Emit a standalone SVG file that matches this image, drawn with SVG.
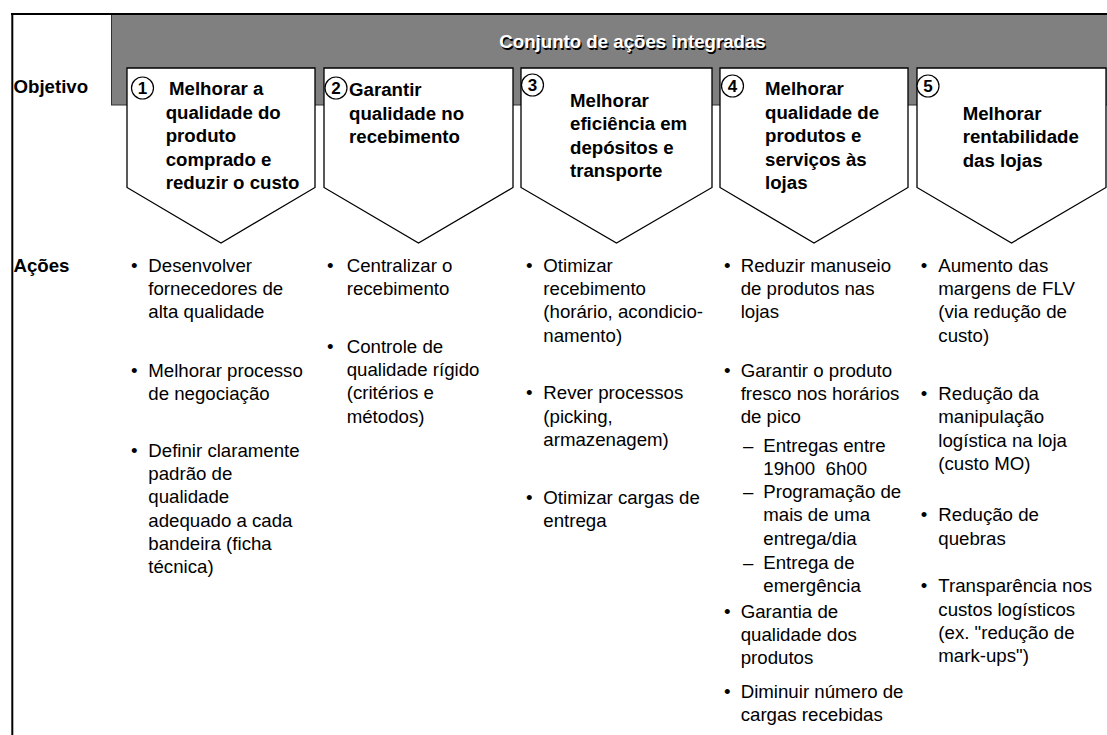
<svg xmlns="http://www.w3.org/2000/svg" width="1107" height="735" viewBox="0 0 1107 735">
<style>
text{font-family:"Liberation Sans",Arial,Helvetica,sans-serif;fill:#000;font-size:18.67px}
.b{font-weight:bold}
.ttl{font-weight:bold;fill:#fff;text-anchor:middle}
.sh{font-weight:bold;fill:#000;text-anchor:middle}
.chev{fill:#fff;stroke:#000;stroke-width:1.3}
.circ{fill:#fff;stroke:#000;stroke-width:1.2}
.dg{font-weight:bold;font-size:17px;text-anchor:middle}
</style>
<rect width="1107" height="735" fill="#fff"/>
<g id="frame">
<rect x="111.5" y="14" width="996" height="91" fill="#808080" stroke="#333" stroke-width="1"/>
<line x1="11" y1="14" x2="1107" y2="14" stroke="#000" stroke-width="2.2"/>
<line x1="12.3" y1="13" x2="12.3" y2="735" stroke="#000" stroke-width="2"/>
</g>
<g id="title">
<text class="sh" x="633.8" y="49.5">Conjunto de ações integradas</text>
<text class="ttl" x="632.5" y="48.2">Conjunto de ações integradas</text>
</g>
<g id="row-labels">
<text class="b" x="13.5" y="93">Objetivo</text>
<text class="b" x="13.5" y="271.5">Ações</text>
</g>
<g id="connectors"></g>
<g id="obj1">
<polygon class="chev" points="127,68 315,68 315,187.5 221,243 127,187.5"/>
<circle class="circ" cx="142.5" cy="88" r="11"/>
<text class="dg" x="142.5" y="94">1</text>
<text class="b" x="169" y="95">Melhorar a</text>
<text class="b" x="165.7" y="118.5">qualidade do</text>
<text class="b" x="165.7" y="142">produto</text>
<text class="b" x="165.7" y="165.5">comprado e</text>
<text class="b" x="165.7" y="189">reduzir o custo</text>
</g>
<g id="obj2">
<polygon class="chev" points="324,68 513,68 513,187.5 418.5,243 324,187.5"/>
<circle class="circ" cx="336" cy="88" r="11"/>
<text class="dg" x="336" y="94">2</text>
<text class="b" x="349" y="96">Garantir</text>
<text class="b" x="349" y="119.5">qualidade no</text>
<text class="b" x="349" y="143">recebimento</text>
</g>
<g id="obj3">
<polygon class="chev" points="521,68 712,68 712,187.5 616.5,243 521,187.5"/>
<circle class="circ" cx="532.5" cy="85" r="11"/>
<text class="dg" x="532.5" y="91">3</text>
<text class="b" x="570" y="106.5">Melhorar</text>
<text class="b" x="570" y="130">eficiência em</text>
<text class="b" x="570" y="153.5">depósitos e</text>
<text class="b" x="570" y="177">transporte</text>
</g>
<g id="obj4">
<polygon class="chev" points="720,68 908,68 908,187.5 814,243 720,187.5"/>
<circle class="circ" cx="732.5" cy="86" r="11"/>
<text class="dg" x="732.5" y="92">4</text>
<text class="b" x="765" y="95">Melhorar</text>
<text class="b" x="765" y="118.5">qualidade de</text>
<text class="b" x="765" y="142">produtos e</text>
<text class="b" x="765" y="165.5">serviços às</text>
<text class="b" x="765" y="189">lojas</text>
</g>
<g id="obj5">
<polygon class="chev" points="917,68 1106,68 1106,187.5 1011.5,243 917,187.5"/>
<circle class="circ" cx="928" cy="86" r="11"/>
<text class="dg" x="928" y="92">5</text>
<text class="b" x="962.7" y="119.5">Melhorar</text>
<text class="b" x="962.7" y="143">rentabilidade</text>
<text class="b" x="962.7" y="166.5">das lojas</text>
</g>
<g id="acoes1">
<text x="131" y="271.5">•</text>
<text x="148.3" y="271.5">Desenvolver</text>
<text x="148.3" y="294.8">fornecedores de</text>
<text x="148.3" y="318.2">alta qualidade</text>
<text x="131" y="376.5">•</text>
<text x="148.3" y="376.5">Melhorar processo</text>
<text x="148.3" y="399.8">de negociação</text>
<text x="131" y="456.5">•</text>
<text x="148.3" y="456.5">Definir claramente</text>
<text x="148.3" y="479.8">padrão de</text>
<text x="148.3" y="503.2">qualidade</text>
<text x="148.3" y="526.5">adequado a cada</text>
<text x="148.3" y="549.8">bandeira (ficha</text>
<text x="148.3" y="573.2">técnica)</text>
</g>
<g id="acoes2">
<text x="327" y="271.5">•</text>
<text x="346.7" y="271.5">Centralizar o</text>
<text x="346.7" y="294.8">recebimento</text>
<text x="327" y="352.5">•</text>
<text x="346.7" y="352.5">Controle de</text>
<text x="346.7" y="375.8">qualidade rígido</text>
<text x="346.7" y="399.2">(critérios e</text>
<text x="346.7" y="422.5">métodos)</text>
</g>
<g id="acoes3">
<text x="526" y="271.5">•</text>
<text x="543.3" y="271.5">Otimizar</text>
<text x="543.3" y="294.8">recebimento</text>
<text x="543.3" y="318.2">(horário, acondicio-</text>
<text x="543.3" y="341.5">namento)</text>
<text x="526" y="399.2">•</text>
<text x="543.3" y="399.2">Rever processos</text>
<text x="543.3" y="422.5">(picking,</text>
<text x="543.3" y="445.8">armazenagem)</text>
<text x="526" y="503.8">•</text>
<text x="543.3" y="503.8">Otimizar cargas de</text>
<text x="543.3" y="527.2">entrega</text>
</g>
<g id="acoes4">
<text x="724" y="271.5">•</text>
<text x="740.7" y="271.5">Reduzir manuseio</text>
<text x="740.7" y="294.8">de produtos nas</text>
<text x="740.7" y="318.2">lojas</text>
<text x="724" y="376.5">•</text>
<text x="740.7" y="376.5">Garantir o produto</text>
<text x="740.7" y="399.8">fresco nos horários</text>
<text x="740.7" y="423.2">de pico</text>
<text x="743" y="451.5">–</text>
<text x="763.3" y="451.5">Entregas entre</text>
<text x="763.3" y="474.8" xml:space="preserve">19h00  6h00</text>
<text x="743" y="498">–</text>
<text x="763.3" y="498">Programação de</text>
<text x="763.3" y="521.3">mais de uma</text>
<text x="763.3" y="544.6">entrega/dia</text>
<text x="743" y="569">–</text>
<text x="763.3" y="569">Entrega de</text>
<text x="763.3" y="592.3">emergência</text>
<text x="724" y="617.5">•</text>
<text x="740.7" y="617.5">Garantia de</text>
<text x="740.7" y="640.8">qualidade dos</text>
<text x="740.7" y="664.1">produtos</text>
<text x="724" y="698">•</text>
<text x="740.7" y="698">Diminuir número de</text>
<text x="740.7" y="721.3">cargas recebidas</text>
</g>
<g id="acoes5">
<text x="920.7" y="271.5">•</text>
<text x="938.3" y="271.5">Aumento das</text>
<text x="938.3" y="294.8">margens de FLV</text>
<text x="938.3" y="318.2">(via redução de</text>
<text x="938.3" y="341.5">custo)</text>
<text x="920.7" y="399.8">•</text>
<text x="938.3" y="399.8">Redução da</text>
<text x="938.3" y="423.2">manipulação</text>
<text x="938.3" y="446.5">logística na loja</text>
<text x="938.3" y="469.8">(custo MO)</text>
<text x="920.7" y="521.3">•</text>
<text x="938.3" y="521.3">Redução de</text>
<text x="938.3" y="544.6">quebras</text>
<text x="920.7" y="592.3">•</text>
<text x="938.3" y="592.3">Transparência nos</text>
<text x="938.3" y="615.6">custos logísticos</text>
<text x="938.3" y="638.9">(ex. "redução de</text>
<text x="938.3" y="662.2">mark-ups")</text>
</g>
</svg>
